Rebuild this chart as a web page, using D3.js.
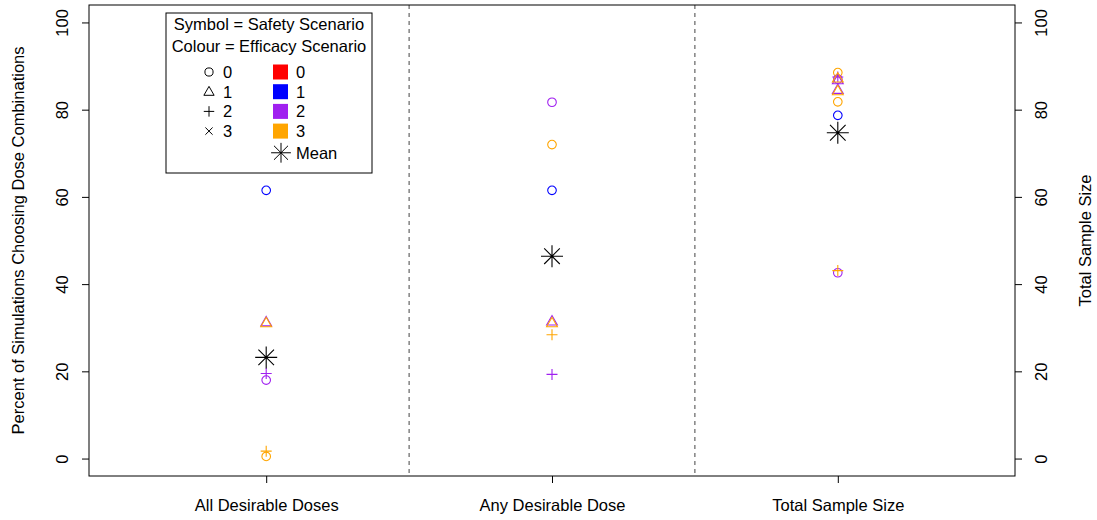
<!DOCTYPE html>
<html>
<head>
<meta charset="utf-8">
<script src="https://cdn.jsdelivr.net/npm/d3@7"></script>
<style>
body { margin: 0; background: #fff; }
text { font-family: 'Liberation Sans', Arial, sans-serif; fill: #000; }
</style>
</head>
<body>
<svg width="1097" height="520"></svg>
<script>
// categories on the x axis
var categories = ['All Desirable Doses', 'Any Desirable Dose', 'Total Sample Size'];

// each point: category index (1-3), safety scenario (symbol), efficacy scenario (colour), value
var pointCat =    [1, 1, 1, 1, 1, 1, 1,   2, 2, 2, 2, 2, 2, 2,   3, 3, 3, 3, 3, 3, 3, 3, 3, 3, 3];
var pointSafety = [0, 1, 1, 2, 0, 2, 0,   0, 0, 0, 1, 1, 2, 2,   0, 0, 2, 1, 1, 1, 1, 0, 0, 0, 2];
var pointEff =    [1, 2, 3, 2, 2, 3, 3,   2, 3, 1, 2, 3, 3, 2,   3, 2, 2, 2, 3, 2, 3, 3, 1, 2, 3];
var pointValue =  [61.5, 31.3, 31.1, 19.5, 18.0, 1.7, 0.5,
                   81.7, 72.0, 61.5, 31.5, 31.1, 28.4, 19.3,
                   88.5, 87.0, 87.5, 86.8, 87.2, 84.6, 84.3, 81.8, 78.7, 42.6, 43.1];

// mean of each category
var meanValue = [23.2, 46.4, 74.7];

var yTicks = [0, 20, 40, 60, 80, 100];
var safetyLevels = [0, 1, 2, 3];
var efficacyLevels = [0, 1, 2, 3];
var efficacyColours = ['#FF0000', '#0000FF', '#A020F0', '#FFA500'];

var fontSize = '16.5px';
var svg = d3.select('svg');
var box = {l: 89, r: 1015, t: 5, b: 476};

var x = d3.scaleLinear().domain([0.38, 3.62]).range([box.l, box.r]);
var y = d3.scaleLinear().domain([-4, 104]).range([box.b, box.t]);
var colour = d3.scaleOrdinal().domain(efficacyLevels).range(efficacyColours);

// R-like plotting symbols
function symbolPath(pch, s) {
    s = s || 1;
    if (pch === 0) {
        var r = 4.3 * s;
        return 'M' + (-r) + ',0A' + r + ',' + r + ' 0 1,0 ' + r + ',0A' + r + ',' + r + ' 0 1,0 ' + (-r) + ',0Z';
    }
    if (pch === 1) {
        var w = 5.4 * s;
        return 'M0,' + (-5.6 * s) + 'L' + w + ',' + (3.8 * s) + 'L' + (-w) + ',' + (3.8 * s) + 'Z';
    }
    if (pch === 2) {
        var a = 5.5 * s;
        return 'M' + (-a) + ',0H' + a + 'M0,' + (-a) + 'V' + a;
    }
    if (pch === 3) {
        var b = 3.8 * s;
        return 'M' + (-b) + ',' + (-b) + 'L' + b + ',' + b + 'M' + (-b) + ',' + b + 'L' + b + ',' + (-b);
    }
    // asterisk
    var c = 11 * s, d = 7.8 * s;
    return 'M' + (-c) + ',0H' + c + 'M0,' + (-c) + 'V' + c +
        'M' + (-d) + ',' + (-d) + 'L' + d + ',' + d + 'M' + (-d) + ',' + d + 'L' + d + ',' + (-d);
}

// dashed separators
svg.selectAll('.sep')
    .data([1.5, 2.5])
    .enter()
    .append('line')
    .attr('x1', d => x(d)).attr('x2', d => x(d))
    .attr('y1', box.t).attr('y2', box.b)
    .style('stroke', '#444')
    .style('stroke-dasharray', '4,4');

// left axis
var left = svg.append('g')
    .attr('transform', 'translate(' + box.l + ',0)')
    .call(d3.axisLeft(y).tickValues(yTicks).tickSize(7).tickPadding(0));
left.select('.domain').style('stroke', 'none');
left.selectAll('.tick line').style('stroke', '#000');
left.selectAll('.tick text')
    .attr('x', 0).attr('dy', 0)
    .attr('transform', 'translate(-21,0) rotate(-90)')
    .attr('text-anchor', 'middle')
    .style('font-size', fontSize).style('font-family', 'Liberation Sans, Arial, sans-serif');

// right axis
var right = svg.append('g')
    .attr('transform', 'translate(' + box.r + ',0)')
    .call(d3.axisRight(y).tickValues(yTicks).tickSize(7).tickPadding(0));
right.select('.domain').style('stroke', 'none');
right.selectAll('.tick line').style('stroke', '#000');
right.selectAll('.tick text')
    .attr('x', 0).attr('dy', 0)
    .attr('transform', 'translate(32,0) rotate(-90)')
    .attr('text-anchor', 'middle')
    .style('font-size', fontSize).style('font-family', 'Liberation Sans, Arial, sans-serif');

// bottom axis
var bottom = svg.append('g')
    .attr('transform', 'translate(0,' + box.b + ')')
    .call(d3.axisBottom(x).tickValues([1, 2, 3]).tickSize(7).tickPadding(16)
        .tickFormat(d => categories[d - 1]));
bottom.select('.domain').style('stroke', 'none');
bottom.selectAll('.tick line').style('stroke', '#000');
bottom.selectAll('.tick text')
    .style('font-size', fontSize).style('font-family', 'Liberation Sans, Arial, sans-serif');

// plot box
svg.append('rect')
    .attr('x', box.l).attr('y', box.t)
    .attr('width', box.r - box.l).attr('height', box.b - box.t)
    .style('fill', 'none').style('stroke', '#000');

// axis titles
svg.append('text')
    .attr('transform', 'translate(24,' + ((box.t + box.b) / 2) + ') rotate(-90)')
    .attr('text-anchor', 'middle')
    .style('font-size', fontSize)
    .text('Percent of Simulations Choosing Dose Combinations');

svg.append('text')
    .attr('transform', 'translate(1091,' + ((box.t + box.b) / 2) + ') rotate(-90)')
    .attr('text-anchor', 'middle')
    .style('font-size', fontSize)
    .text('Total Sample Size');

// points
var points = pointValue.map(function(v, i) {
    return {cat: pointCat[i], safety: pointSafety[i], eff: pointEff[i], value: v};
});

svg.selectAll('.pt')
    .data(points)
    .enter()
    .append('path')
    .attr('class', 'pt')
    .attr('transform', d => 'translate(' + x(d.cat) + ',' + y(d.value) + ')')
    .attr('d', d => symbolPath(d.safety))
    .style('fill', 'none')
    .style('stroke', d => colour(d.eff))
    .style('stroke-width', 1.1);

svg.selectAll('.mean')
    .data(meanValue)
    .enter()
    .append('path')
    .attr('class', 'mean')
    .attr('transform', (d, i) => 'translate(' + x(i + 1) + ',' + y(d) + ')')
    .attr('d', symbolPath(4))
    .style('fill', 'none')
    .style('stroke', '#000')
    .style('stroke-width', 1.1);

// legend
var legend = svg.append('g');
legend.append('rect')
    .attr('x', 166).attr('y', 13).attr('width', 206).attr('height', 160)
    .style('fill', '#fff').style('stroke', '#000');
legend.append('text')
    .attr('x', 269).attr('y', 30).attr('text-anchor', 'middle')
    .style('font-size', fontSize).text('Symbol = Safety Scenario');
legend.append('text')
    .attr('x', 269).attr('y', 52).attr('text-anchor', 'middle')
    .style('font-size', fontSize).text('Colour = Efficacy Scenario');

var rowY = d3.scaleLinear().domain([0, 1]).range([72, 91.7]);

legend.selectAll('.lsym')
    .data(safetyLevels)
    .enter()
    .append('path')
    .attr('transform', d => 'translate(209,' + rowY(d) + ')')
    .attr('d', d => symbolPath(d, 0.95))
    .style('fill', 'none').style('stroke', '#000');

legend.selectAll('.lsymt')
    .data(safetyLevels)
    .enter()
    .append('text')
    .attr('x', 223).attr('y', d => rowY(d) + 6)
    .style('font-size', fontSize)
    .text(d => d);

legend.selectAll('.lcol')
    .data(efficacyLevels)
    .enter()
    .append('rect')
    .attr('x', 273).attr('y', d => rowY(d) - 7.5)
    .attr('width', 15).attr('height', 15)
    .style('fill', d => colour(d));

legend.selectAll('.lcolt')
    .data(efficacyLevels)
    .enter()
    .append('text')
    .attr('x', 296).attr('y', d => rowY(d) + 6)
    .style('font-size', fontSize)
    .text(d => d);

legend.append('path')
    .attr('transform', 'translate(281,' + rowY(4.1) + ')')
    .attr('d', symbolPath(4, 0.9))
    .style('fill', 'none').style('stroke', '#000');
legend.append('text')
    .attr('x', 296).attr('y', rowY(4.1) + 6)
    .style('font-size', fontSize)
    .text('Mean');
</script>
</body>
</html>
